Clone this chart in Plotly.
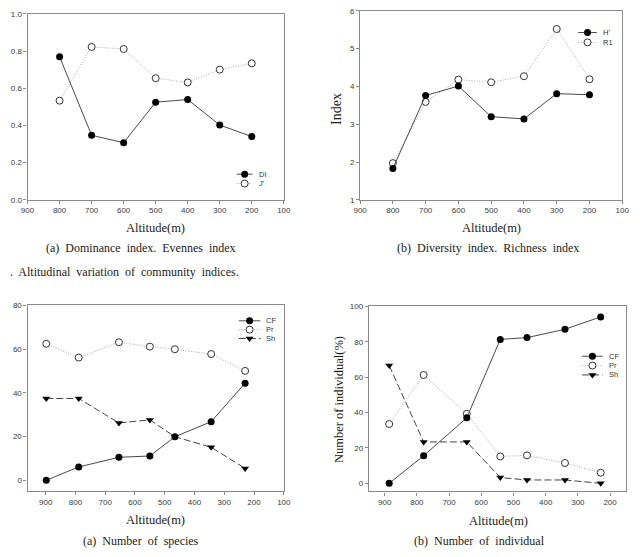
import plotly.graph_objects as go

W, H = 640, 557

# ---------------- data ----------------
alt_top = [800, 700, 600, 500, 400, 300, 200]
dominance_di = [0.769, 0.347, 0.307, 0.525, 0.539, 0.402, 0.340]
evenness_j = [0.533, 0.822, 0.811, 0.654, 0.631, 0.700, 0.734]
diversity_h = [1.83, 3.76, 4.01, 3.20, 3.14, 3.81, 3.78]
richness_r1 = [1.97, 3.59, 4.18, 4.11, 4.27, 5.52, 4.19]

alt_species = [898, 789, 654, 550, 466, 344, 230]
species_cf = [0.0, 6.1, 10.5, 11.1, 19.9, 26.8, 44.4]
species_pr = [62.4, 56.1, 63.1, 61.1, 59.9, 57.7, 50.0]
species_sh = [37.4, 37.4, 26.2, 27.6, 19.9, 15.1, 5.4]

alt_indiv = [886, 779, 645, 541, 458, 340, 229]
indiv_cf = [0.0, 15.6, 37.0, 81.3, 82.3, 87.0, 94.0]
indiv_pr = [33.5, 61.2, 39.3, 15.2, 15.8, 11.5, 6.0]
indiv_sh = [66.5, 23.4, 23.4, 3.3, 1.9, 1.9, 0.0]

x_ticks_top = [900, 800, 700, 600, 500, 400, 300, 200, 100]
x_ticks_species = [900, 800, 700, 600, 500, 400, 300, 200, 100]
x_ticks_indiv = [900, 800, 700, 600, 500, 400, 300, 200]

# ---------------- styles ----------------
SOLID = dict(color='#4a4a4a', width=1)
DOT = dict(color='#a8a8a8', width=1, dash='1px,1.6px')
DASH = dict(color='#444444', width=1, dash='7px,3px')
M_FILL = dict(symbol='circle', size=7, color='black', line=dict(color='black', width=0))
M_OPEN = dict(symbol='circle', size=7, color='white', line=dict(color='#333333', width=1))
M_TRI = dict(symbol='triangle-down', size=7, color='black', line=dict(color='black', width=0))

SERIF = 'Liberation Serif, Times New Roman, serif'
SANS = 'Liberation Sans, Arial, sans-serif'
TICKFONT = dict(family=SANS, size=8, color='#3a3a3a')
AXCOL = '#8a8a8a'


def px(x):
    return x / W


def py(y):
    return 1 - y / H


fig = go.Figure()


def add_series(x, y, line, marker, ax):
    fig.add_trace(go.Scatter(x=x, y=y, mode='lines+markers', line=line, marker=marker,
                             xaxis='x' + ax, yaxis='y' + ax, showlegend=False,
                             hoverinfo='skip'))


# panel a (ax ''), b ('2'), c ('3'), d ('4')
add_series(alt_top, evenness_j, DOT, M_OPEN, '')
add_series(alt_top, dominance_di, SOLID, M_FILL, '')
add_series(alt_top, richness_r1, DOT, M_OPEN, '2')
add_series(alt_top, diversity_h, SOLID, M_FILL, '2')
add_series(alt_species, species_pr, DOT, M_OPEN, '3')
add_series(alt_species, species_sh, DASH, M_TRI, '3')
add_series(alt_species, species_cf, SOLID, M_FILL, '3')
add_series(alt_indiv, indiv_pr, DOT, M_OPEN, '4')
add_series(alt_indiv, indiv_sh, DASH, M_TRI, '4')
add_series(alt_indiv, indiv_cf, SOLID, M_FILL, '4')


def axis(domain, rng, tickvals, fmt=None, anchor=None):
    d = dict(domain=domain, range=rng, tickvals=tickvals, showline=True, mirror=True,
             linecolor=AXCOL, linewidth=1.2, ticks='outside', ticklen=3, tickwidth=1,
             tickcolor=AXCOL, tickfont=TICKFONT, showgrid=False, zeroline=False,
             anchor=anchor, fixedrange=True)
    if fmt:
        d['tickformat'] = fmt
    return d


layout = dict(
    width=W, height=H, margin=dict(l=0, r=0, t=0, b=0),
    paper_bgcolor='white', plot_bgcolor='rgba(0,0,0,0)', showlegend=False,
    xaxis=axis([px(21), px(283)], [900, 100], x_ticks_top, anchor='y'),
    yaxis=axis([py(199), py(10)], [0, 1.0], [0, 0.2, 0.4, 0.6, 0.8, 1.0], '.1f', anchor='x'),
    xaxis2=axis([px(361), px(629)], [900, 100], x_ticks_top, anchor='y2'),
    yaxis2=axis([py(199), py(7)], [1, 6], [1, 2, 3, 4, 5, 6], anchor='x2'),
    xaxis3=axis([px(21), px(283)], [961, 100], x_ticks_species, anchor='y3'),
    yaxis3=axis([py(495), py(306)], [-4.9, 80.1], [0, 20, 40, 60, 80], anchor='x3'),
    xaxis4=axis([px(370), px(633)], [949, 150], x_ticks_indiv, anchor='y4'),
    yaxis4=axis([py(495.5), py(306.7)], [-4.6, 100.3], [0, 20, 40, 60, 80, 100], anchor='x4'),
    xaxis5=dict(domain=[0, 1], range=[0, W], visible=False, anchor='y5', fixedrange=True),
    yaxis5=dict(domain=[0, 1], range=[H, 0], visible=False, anchor='x5', fixedrange=True),
)
fig.update_layout(**layout)

# ---------------- legend keys (decorative, pixel space) ----------------
legend_keys = [
    # (x0, x1, xtext, y, label, line, marker)
    (235, 251, 256, 173, 'DI', SOLID, M_FILL),
    (235, 251, 256, 182.5, "J'", DOT, M_OPEN),
    (584, 603, 607, 29, "H'", SOLID, M_FILL),
    (584, 603, 607, 39, 'R1', DOT, M_OPEN),
    (237, 259, 263, 322, 'CF', SOLID, M_FILL),
    (237, 259, 263, 331, 'Pr', DOT, M_OPEN),
    (237, 259, 263, 340, 'Sh', DASH, M_TRI),
    (588, 609, 613, 358, 'CF', SOLID, M_FILL),
    (588, 609, 613, 367.5, 'Pr', DOT, M_OPEN),
    (588, 609, 613, 377, 'Sh', DASH, M_TRI),
]
annotations = []
for x0, x1, xt, y, lab, ln, mk in legend_keys:
    fig.add_trace(go.Scatter(x=[x0, x1], y=[y, y], mode='lines', line=ln, xaxis='x5',
                             yaxis='y5', showlegend=False, hoverinfo='skip'))
    fig.add_trace(go.Scatter(x=[(x0 + x1) / 2], y=[y], mode='markers', marker=mk, xaxis='x5',
                             yaxis='y5', showlegend=False, hoverinfo='skip'))
    annotations.append(dict(x=px(xt), y=py(y), xref='paper', yref='paper', text=lab,
                            showarrow=False, xanchor='left', yanchor='middle',
                            font=dict(family=SANS, size=7.5, color='#333333')))

NB = '\u00a0'
texts = [
    # (x, y, text, size, anchor, angle)
    (152, 228, 'Altitude(m)', 12.5, 'center', 0),
    (495, 228, 'Altitude(m)', 12.5, 'center', 0),
    (152, 524, 'Altitude(m)', 12.5, 'center', 0),
    (502, 525, 'Altitude(m)', 12.5, 'center', 0),
    (137, 248, f'(a){NB} Dominance{NB} index.{NB} Evennes{NB} index', 12, 'center', 0),
    (492, 248, f'(b){NB} Diversity{NB} index.{NB} Richness{NB} index', 12, 'center', 0),
    (1, 272, f'.{NB} Altitudinal{NB} variation{NB} of{NB} community{NB} indices.', 12, 'left', 0),
    (137, 546, f'(a){NB} Number{NB} of{NB} species', 12, 'center', 0),
    (483, 546, f'(b){NB} Number{NB} of{NB} individual', 12, 'center', 0),
    (337, 107, 'Index', 14, 'center', -90),
    (339, 402, 'Number of individual(%)', 12.5, 'center', -90),
]
for x, y, t, s, anc, ang in texts:
    annotations.append(dict(x=px(x), y=py(y), xref='paper', yref='paper', text=t,
                            showarrow=False, xanchor=anc, yanchor='middle', textangle=ang,
                            font=dict(family=SERIF, size=s, color='#1a1a1a')))

fig.update_layout(annotations=annotations)
fig.write_html('out.html')
